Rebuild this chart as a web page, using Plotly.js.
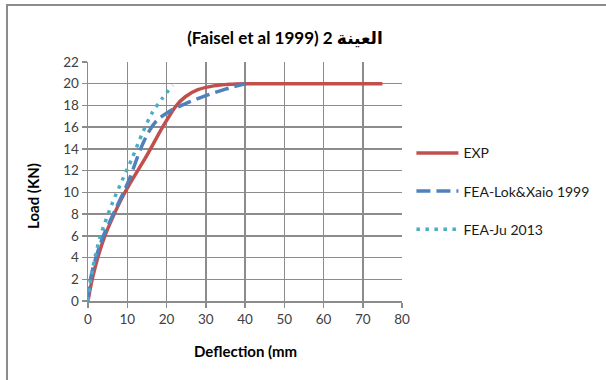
<!DOCTYPE html>
<html>
<head>
<meta charset="utf-8">
<script src="https://cdn.plot.ly/plotly-3.0.1.min.js"></script>
<style>
  html, body { margin: 0; padding: 0; background: #fff; }
  #wrap { position: relative; width: 606px; height: 380px; overflow: hidden; }
  #chart { position: absolute; left: 0; top: 0; width: 606px; height: 380px; }
  #frame { position: absolute; left: 6px; top: 4px; width: 700px; height: 500px;
           border-left: 2px solid #8c8c8c; border-top: 2px solid #8c8c8c; pointer-events: none; }
</style>
</head>
<body>
<div id="wrap"><div id="chart"></div><div id="frame"></div></div>
<script>
// ---- data ----
const seriesNames = ['EXP', 'FEA-Lok&Xaio 1999', 'FEA-Ju 2013'];

const expX = [0, 0.5, 1.2, 2.5, 4.2, 6.3, 8.8, 10.5, 15, 19, 22.3, 24.8, 28, 32, 36, 40, 45, 75];
const expY = [0, 1.0, 2.2, 4.0, 5.9, 7.7, 9.6, 10.7, 13.4, 16.0, 17.9, 18.8, 19.45, 19.8, 19.95, 20, 20, 20];

const lokX = [0, 0.4, 1.7, 3.8, 7.1, 10.4, 13.4, 15.5, 17.5, 20.5, 25, 30, 35, 40];
const lokY = [0, 1.6, 3.6, 5.9, 8.5, 11.1, 14.0, 15.6, 16.6, 17.4, 18.2, 18.9, 19.5, 20];

const juX = [0, 0.4, 1.1, 1.9, 3.0, 4.2, 6.3, 8.7, 11.3, 13.8, 16.3, 18.8, 21.6];
const juY = [0, 1.3, 2.8, 4.2, 5.8, 7.1, 9.1, 11.1, 13.2, 15.4, 17.3, 18.6, 19.85];

const xTicks = [0, 10, 20, 30, 40, 50, 60, 70, 80];
const yTicks = [0, 2, 4, 6, 8, 10, 12, 14, 16, 18, 20, 22];

const titleText = '\u202Bالعينة 2 (Faisel et al 1999)\u202C';
const xTitle = 'Deflection (mm';
const yTitle = 'Load (KN)';

// ---- chart ----
const FONT = 'Lato, "DejaVu Sans", sans-serif';
const GRID = '#8c8c8c';

const traces = [
  { x: expX, y: expY, name: seriesNames[0], mode: 'lines', legendgroup: 'a',
    line: { color: '#C0504D', width: 3.5, shape: 'spline', smoothing: 0.8 } },
  { x: lokX, y: lokY, name: seriesNames[1], mode: 'lines', legendgroup: 'b',
    line: { color: '#4F81BD', width: 3.5, dash: '14px,6px', shape: 'spline', smoothing: 0.8 } },
  { x: juX, y: juY, name: seriesNames[2], mode: 'lines', legendgroup: 'c',
    line: { color: '#4BACC6', width: 3.5, dash: '3.5px,5.5px', shape: 'spline', smoothing: 0.8 } }
];

const axisCommon = {
  showgrid: true, gridcolor: GRID, gridwidth: 1.5,
  showline: true, linecolor: GRID, linewidth: 1.5, mirror: false,
  zeroline: false, ticks: 'outside', ticklen: 5, tickcolor: GRID, tickwidth: 1.5,
  tickfont: { family: FONT, size: 13.5, color: '#404040' },
  fixedrange: true
};

const layout = {
  width: 606, height: 380,
  margin: { l: 88, r: 200, t: 62, b: 79, pad: 0 },
  paper_bgcolor: '#ffffff', plot_bgcolor: '#ffffff',
  showlegend: true,
  title: { text: titleText, x: 285 / 606, xanchor: 'center', xref: 'container',
           y: 1 - 38 / 380, yanchor: 'middle', yref: 'container',
           font: { family: FONT, size: 17, color: '#000', weight: 'bold' } },
  xaxis: Object.assign({}, axisCommon, { range: [0, 80], tickvals: xTicks, ticktext: xTicks.map(String) }),
  yaxis: Object.assign({}, axisCommon, { range: [0, 22], tickvals: yTicks, ticktext: yTicks.map(String) }),
  legend: { x: 1.03, xanchor: 'left', y: 0.685, yanchor: 'top', tracegroupgap: 17,
            font: { family: FONT, size: 14, color: '#1a1a1a' }, bgcolor: 'rgba(0,0,0,0)', itemwidth: 42 },
  annotations: [
    { text: xTitle, xref: 'paper', yref: 'paper', x: 0.5, y: -50 / 239, xanchor: 'center', yanchor: 'middle',
      showarrow: false, font: { family: FONT, size: 15, color: '#000', weight: 'bold' } },
    { text: yTitle, xref: 'paper', yref: 'paper', x: (33 - 88) / 318, y: (300.7 - 196) / 239, textangle: -90,
      xanchor: 'center', yanchor: 'middle',
      showarrow: false, font: { family: FONT, size: 15, color: '#000', weight: 'bold' } }
  ]
};

Plotly.newPlot('chart', traces, layout, { staticPlot: true, displayModeBar: false });
</script>
</body>
</html>
